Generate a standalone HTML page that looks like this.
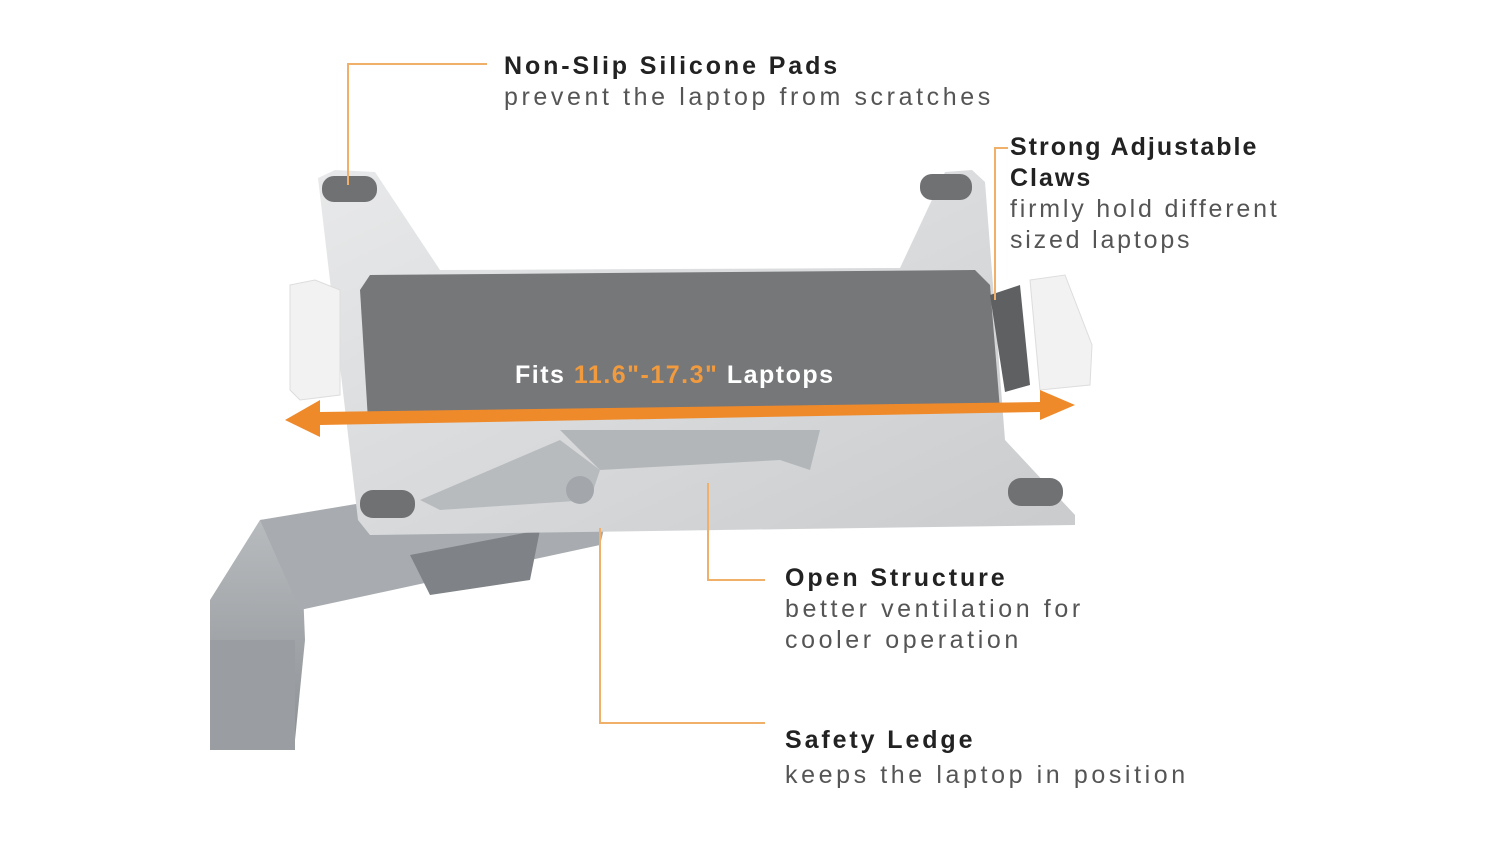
<!DOCTYPE html>
<html><head><meta charset="utf-8"><style>
html,body{margin:0;padding:0;background:#fff;}
body{width:1500px;height:844px;overflow:hidden;position:relative;font-family:"Liberation Sans",sans-serif;}
.t{position:absolute;font-size:25px;line-height:31px;color:#555;letter-spacing:3.6px}
.t b{color:#222;letter-spacing:2.9px}
</style></head><body>
<svg width="1500" height="844" style="position:absolute;left:0;top:0">
<defs>
<linearGradient id="arm" x1="0" y1="0" x2="0" y2="1"><stop offset="0" stop-color="#b9bcbf"/><stop offset="1" stop-color="#8c9094"/></linearGradient>
<linearGradient id="tray" x1="0" y1="0" x2="1" y2="1"><stop offset="0" stop-color="#e8e9ea"/><stop offset="1" stop-color="#c9cbcd"/></linearGradient>
</defs>
<polygon points="210,600 260,520 300,515 305,640 295,740 210,750" fill="url(#arm)"/>
<rect x="210" y="640" width="85" height="110" fill="#9a9ea2"/>
<polygon points="260,520 560,470 610,505 600,545 300,610" fill="#a8acb0"/>
<polygon points="410,555 540,530 530,580 430,595" fill="#7f8387"/>
<polygon points="318,178 335,170 375,172 440,270 900,268 945,172 972,170 985,182 1005,440 1075,515 1075,525 370,535 358,520" fill="url(#tray)"/>
<polygon points="420,500 560,440 600,470 590,500 440,510" fill="#b8bbbe"/>
<polygon points="560,430 820,430 810,470 780,460 600,470" fill="#b3b6b9"/>
<circle cx="580" cy="490" r="14" fill="#a3a7ab"/>
<polygon points="360,290 370,275 975,270 990,285 1000,410 368,420" fill="#757779"/>
<rect x="322" y="176" width="55" height="26" rx="12" fill="#6f7173"/>
<rect x="920" y="174" width="52" height="26" rx="12" fill="#6f7173"/>
<rect x="360" y="490" width="55" height="28" rx="13" fill="#6f7173"/>
<rect x="1008" y="478" width="55" height="28" rx="13" fill="#6f7173"/>
<polygon points="290,285 315,280 340,290 340,395 300,400 290,390" fill="#f2f2f2" stroke="#ddd"/>
<polygon points="1030,280 1065,275 1092,345 1090,385 1040,390" fill="#f2f2f2" stroke="#ddd"/>
<polygon points="990,295 1020,285 1030,385 1005,392" fill="#5e6062"/>
<polygon points="285,420 320,400 320,412 1040,402 1040,390 1075,405 1040,420 1040,412 320,425 320,437" fill="#ef8a2b"/>
<text x="515" y="383" font-family="Liberation Sans,sans-serif" font-weight="bold" font-size="25" letter-spacing="1.5" fill="#fff">Fits <tspan fill="#f19a3e">11.6"-17.3"</tspan> Laptops</text>
<g stroke="#f0b06a" stroke-width="2" fill="none">
<polyline points="348,185 348,64 487,64"/>
<polyline points="1008,148 995,148 995,300"/>
<polyline points="708,483 708,580 765,580"/>
<polyline points="600,528 600,723 765,723"/>
</g>
</svg>
<div class="t" style="left:504px;top:51px"><b>Non-Slip Silicone Pads</b><br>prevent the laptop from scratches</div>
<div class="t" style="left:1010px;top:132px;letter-spacing:2.8px"><b style="letter-spacing:2px">Strong Adjustable<br>Claws</b><br>firmly hold different<br>sized laptops</div>
<div class="t" style="left:785px;top:563px"><b>Open Structure</b><br>better ventilation for<br>cooler operation</div>
<div class="t" style="left:785px;top:723px;line-height:35px"><b>Safety Ledge</b><br>keeps the laptop in position</div>
</body></html>
